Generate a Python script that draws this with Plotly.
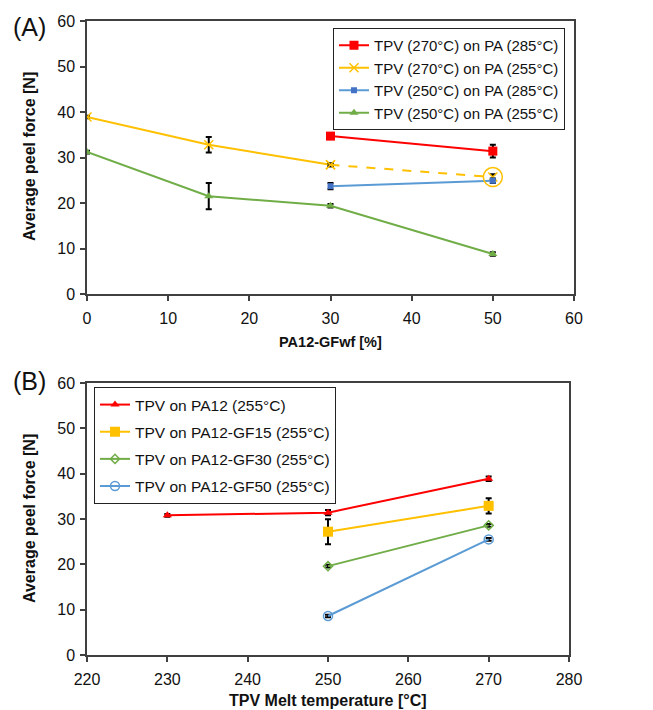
import plotly.graph_objects as go

# ---------------- Data: panel (A) ----------------
a_red_x = [30, 50]
a_red_y = [34.7, 31.4]
a_red_err = [0.3, 1.4]

a_yel_x = [0, 15, 30, 50]
a_yel_y = [38.9, 32.8, 28.4, 25.7]
a_yel_err = [0.3, 1.7, 0.3, 0.6]

a_blue_x = [30, 50]
a_blue_y = [23.7, 24.9]
a_blue_err = [0.7, 0.5]

a_grn_x = [0, 15, 30, 50]
a_grn_y = [31.2, 21.5, 19.4, 8.8]
a_grn_err = [0.3, 2.9, 0.4, 0.4]

a_names = ["TPV (270°C) on PA (285°C)", "TPV (270°C) on PA (255°C)",
           "TPV (250°C) on PA (285°C)", "TPV (250°C) on PA (255°C)"]

# ---------------- Data: panel (B) ----------------
b_red_x = [230, 250, 270]
b_red_y = [30.8, 31.4, 38.9]
b_red_err = [0.3, 0.6, 0.5]

b_yel_x = [250, 270]
b_yel_y = [27.2, 32.9]
b_yel_err = [2.75, 1.7]

b_grn_x = [250, 270]
b_grn_y = [19.6, 28.6]
b_grn_err = [0.3, 0.3]

b_blue_x = [250, 270]
b_blue_y = [8.6, 25.5]
b_blue_err = [0.3, 0.3]

b_names = ["TPV on PA12 (255°C)", "TPV on PA12-GF15 (255°C)",
           "TPV on PA12-GF30 (255°C)", "TPV on PA12-GF50 (255°C)"]

xa_ticks = [0, 10, 20, 30, 40, 50, 60]
xb_ticks = [220, 230, 240, 250, 260, 270, 280]
y_ticks = [0, 10, 20, 30, 40, 50, 60]

RED = "#FF0000"
YEL = "#FFC000"
BLUE_L = "#5B9BD5"
BLUE_M = "#4472C4"
GRN = "#70AD47"
FONT = "Liberation Sans, Arial, sans-serif"


def err(arr):
    return dict(type="data", array=arr, visible=True, color="black",
                thickness=2, width=3)


fig = go.Figure()

# ---- Panel A traces ----
fig.add_trace(go.Scatter(x=a_red_x, y=a_red_y, name=a_names[0], mode="lines+markers",
                         line=dict(color=RED, width=2),
                         marker=dict(symbol="square", size=9, color=RED),
                         error_y=err(a_red_err), xaxis="x", yaxis="y", legend="legend"))
fig.add_trace(go.Scatter(x=a_yel_x[:3], y=a_yel_y[:3], name=a_names[1], mode="lines+markers",
                         line=dict(color=YEL, width=2),
                         marker=dict(symbol="x-thin-open", size=9, color=YEL,
                                     line=dict(color=YEL, width=1.5)),
                         error_y=err(a_yel_err[:3]), xaxis="x", yaxis="y", legend="legend"))
fig.add_trace(go.Scatter(x=a_yel_x[2:], y=a_yel_y[2:], mode="lines+markers", showlegend=False,
                         line=dict(color=YEL, width=2, dash="dash"),
                         marker=dict(symbol="x-thin-open", size=9, color=YEL,
                                     line=dict(color=YEL, width=1.5)),
                         error_y=err(a_yel_err[2:]), xaxis="x", yaxis="y"))
fig.add_trace(go.Scatter(x=a_blue_x, y=a_blue_y, name=a_names[2], mode="lines+markers",
                         line=dict(color=BLUE_L, width=2),
                         marker=dict(symbol="square", size=6, color=BLUE_M),
                         error_y=err(a_blue_err), xaxis="x", yaxis="y", legend="legend"))
fig.add_trace(go.Scatter(x=a_grn_x, y=a_grn_y, name=a_names[3], mode="lines+markers",
                         line=dict(color=GRN, width=2),
                         marker=dict(symbol="triangle-up", size=8, color=GRN),
                         error_y=err(a_grn_err), xaxis="x", yaxis="y", legend="legend"))
# highlight circle around the last dashed point
fig.add_trace(go.Scatter(x=a_yel_x[-1:], y=a_yel_y[-1:], mode="markers", showlegend=False,
                         marker=dict(symbol="circle-open", size=19, color=YEL,
                                     line=dict(color=YEL, width=1.5)),
                         hoverinfo="skip", xaxis="x", yaxis="y"))

# ---- Panel B traces ----
b_sets = [
    (b_red_x, b_red_y, b_red_err, RED, dict(symbol="triangle-up", size=8, color=RED)),
    (b_yel_x, b_yel_y, b_yel_err, YEL, dict(symbol="square", size=10, color=YEL)),
    (b_grn_x, b_grn_y, b_grn_err, GRN,
     dict(symbol="diamond-open", size=7, color=GRN, line=dict(color=GRN, width=1.5))),
    (b_blue_x, b_blue_y, b_blue_err, BLUE_L,
     dict(symbol="circle-open", size=9, color=BLUE_L, line=dict(color=BLUE_L, width=1.5))),
]
for i, (bx, by, be, lc, mk) in enumerate(b_sets):
    fig.add_trace(go.Scatter(x=bx, y=by, name=b_names[i], mode="lines+markers",
                             line=dict(color=lc, width=2), marker=mk,
                             error_y=err(be), xaxis="x2", yaxis="y2",
                             legend="legend2", legendgroup=f"b{i}"))

axis_common = dict(showline=True, linecolor="#404040", linewidth=1.5, mirror=True,
                   ticks="outside", ticklen=5, tickcolor="#404040", tickwidth=1.5,
                   showgrid=False, zeroline=False, automargin=False,
                   tickfont=dict(family=FONT, size=16, color="#111"))

fig.update_layout(
    width=653, height=710,
    margin=dict(l=0, r=0, t=0, b=0),
    paper_bgcolor="white", plot_bgcolor="white",
    font=dict(family=FONT, size=16, color="#111"),
    xaxis=dict(domain=[87 / 653, 574 / 653], range=[0, 60], tickvals=xa_ticks,
               anchor="y", ticklabelstandoff=4, **axis_common),
    yaxis=dict(domain=[1 - 294 / 710, 1 - 21 / 710], range=[0, 60], tickvals=y_ticks,
               anchor="x", ticklabelstandoff=2, **axis_common),
    xaxis2=dict(domain=[87 / 653, 569 / 653], range=[220, 280], tickvals=xb_ticks,
                anchor="y2", ticklabelstandoff=4, **axis_common),
    yaxis2=dict(domain=[1 - 655 / 710, 1 - 383 / 710], range=[0, 60], tickvals=y_ticks,
                anchor="x2", ticklabelstandoff=2, **axis_common),
    legend=dict(x=333 / 653, y=1 - 28 / 710, xanchor="left", yanchor="top",
                bgcolor="white", bordercolor="#222", borderwidth=1,
                font=dict(family=FONT, size=15, color="#111"), itemwidth=30,
                tracegroupgap=0),
    legend2=dict(x=94 / 653, y=1 - 387 / 710, xanchor="left", yanchor="top",
                 bgcolor="white", bordercolor="#222", borderwidth=1,
                 font=dict(family=FONT, size=15.5, color="#111"), itemwidth=30,
                 tracegroupgap=4, traceorder="grouped"),
    showlegend=True,
)

ann = [
    dict(text="(A)", x=29 / 653, y=1 - 27 / 710, font=dict(size=25)),
    dict(text="(B)", x=29 / 653, y=1 - 381 / 710, font=dict(size=25)),
    dict(text="<b>Average peel force [N]</b>", x=29 / 653, y=1 - 157 / 710,
         textangle=-90, font=dict(size=16)),
    dict(text="<b>Average peel force [N]</b>", x=29 / 653, y=1 - 519 / 710,
         textangle=-90, font=dict(size=16)),
    dict(text="<b>PA12-GFwf [%]</b>", x=330 / 653, y=1 - 342 / 710, font=dict(size=14.5)),
    dict(text="<b>TPV Melt temperature [°C]</b>", x=328 / 653, y=1 - 700 / 710,
         font=dict(size=16)),
]
for a in ann:
    a.update(xref="paper", yref="paper", showarrow=False, xanchor="center",
             yanchor="middle")
    a["font"].update(family=FONT, color="#111")
fig.update_layout(annotations=ann)

fig.write_html("out.html")
